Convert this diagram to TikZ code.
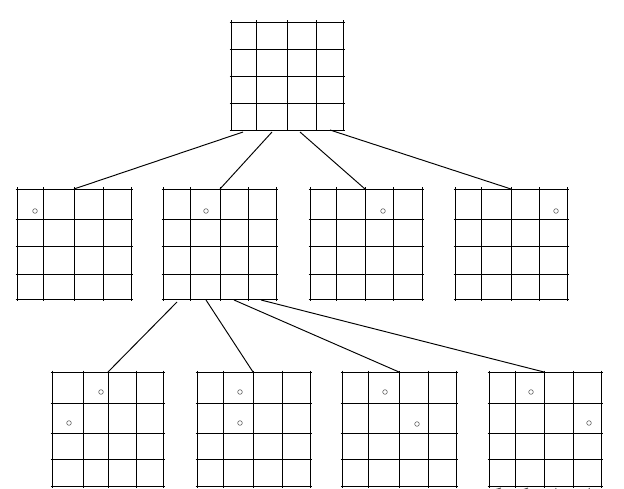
\documentclass[tikz,border=0pt]{standalone}
\begin{document}
\begin{tikzpicture}[x=1pt,y=-1pt,
  gridline/.style={line width=0.95pt,line cap=butt},
  edge/.style={line width=0.95pt},
  dot/.style={draw=black!60,line width=0.6pt}]
\useasboundingbox (0,0) rectangle (624,489);
\fill[white] (0,0) rectangle (624,489);
% grid drawing helper: \gridbox{xlist}{ylist}{x0}{x4}{y0}{y4}
\def\gridbox#1#2#3#4#5#6{%
  \foreach \xx in {#1} {\draw[gridline] (\xx,#5-1.5) -- (\xx,#6+1.5);}
  \foreach \yy in {#2} {\draw[gridline] (#3-1.5,\yy) -- (#4+1.5,\yy);}
}
% ---- top grid
\gridbox{231,256,287,316,343}{22,49,76,103,130}{231}{343}{22}{130}
\coordinate (r1) at (243,132);
\coordinate (r2) at (272,132);
\coordinate (r3) at (300,132);
\coordinate (r4) at (330,130);
% ---- middle row
\gridbox{17,43,74,103,131}{189,219,246,274,299}{17}{131}{189}{299}
\gridbox{163,190,220,248,276}{189,219,246,274,299}{163}{276}{189}{299}
\gridbox{310,336,365,393,422}{189,219,246,274,299}{310}{422}{189}{299}
\gridbox{455,481,511,539,567}{189,219,246,274,299}{455}{567}{189}{299}
\coordinate (a) at (74,189);
\coordinate (b) at (220,189);
\coordinate (c) at (365,189);
\coordinate (d) at (511,189);
\draw[dot] (35,211) circle (2.3);
\draw[dot] (206,211) circle (2.3);
\draw[dot] (383,211) circle (2.3);
\draw[dot] (556,211) circle (2.3);
\draw[edge] (r1) -- (a);
\draw[edge] (r2) -- (b);
\draw[edge] (r3) -- (c);
\draw[edge] (r4) -- (d);
\coordinate (b1) at (177,302);
\coordinate (b2) at (206,300);
\coordinate (b3) at (234,300);
\coordinate (b4) at (261,300);
% ---- bottom row
\gridbox{52,83,108,136,163}{372,403,433,459,486}{52}{163}{372}{486}
\gridbox{197,223,253,282,310}{372,403,433,459,486}{197}{310}{372}{486}
\gridbox{342,368,399,428,456}{372,403,433,459,486}{342}{456}{372}{486}
\gridbox{489,515,544,573,601}{372,403,433,459,486}{489}{601}{372}{486}
\coordinate (e) at (108,372);
\coordinate (f) at (253,372);
\coordinate (g) at (399,372);
\coordinate (h) at (544,372);
\draw[edge] (b1) -- (e);
\draw[edge] (b2) -- (f);
\draw[edge] (b3) -- (g);
\draw[edge] (b4) -- (h);
\draw[dot] (101,392) circle (2.3);
\draw[dot] (69,423) circle (2.3);
\draw[dot] (240,392) circle (2.3);
\draw[dot] (240,423) circle (2.3);
\draw[dot] (385,392) circle (2.3);
\draw[dot] (417,424) circle (2.3);
\draw[dot] (531,392) circle (2.3);
\draw[dot] (589,423) circle (2.3);
% ---- cut-off connectors leaving the last grid
\begin{scope}
\clip (0,0) rectangle (624,489);
\coordinate (h1) at (501,488);
\coordinate (h1e) at (480,494);
\coordinate (h2) at (528,488);
\coordinate (h2e) at (510,494);
\coordinate (h3) at (556,488);
\coordinate (h3e) at (555,494);
\coordinate (h4) at (589,488);
\coordinate (h4e) at (591,494);
\draw[edge,black!70] (h1) -- (h1e);
\draw[edge,black!70] (h2) -- (h2e);
\draw[edge,black!70] (h3) -- (h3e);
\draw[edge,black!70] (h4) -- (h4e);
\end{scope}
\end{tikzpicture}
\end{document}
